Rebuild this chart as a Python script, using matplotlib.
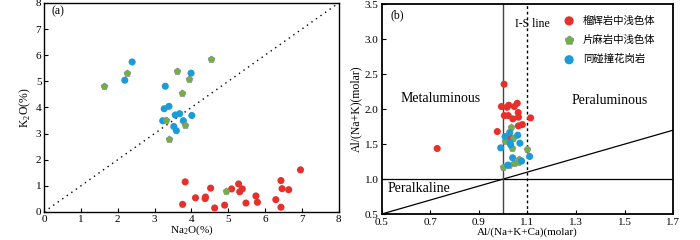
import matplotlib
matplotlib.use('Agg')
from matplotlib import pyplot as plt
import numpy as np

plt.rcParams['font.family'] = ['Liberation Serif', 'Noto Sans CJK SC', 'DejaVu Sans']
plt.rcParams['mathtext.fontset'] = 'custom'
plt.rcParams['mathtext.rm'] = 'Liberation Serif'

# panel (a): Na2O vs K2O
blueNa = [2.39, 2.19, 3.29, 3.99, 3.26, 3.39, 3.22, 3.56, 3.68, 4.01, 3.78, 3.52, 3.59]
blueK = [5.74, 5.04, 4.81, 5.31, 3.95, 4.04, 3.49, 3.71, 3.76, 3.69, 3.49, 3.27, 3.11]
greenNa = [1.63, 2.24, 3.61, 3.92, 3.75, 4.52, 3.32, 3.83, 3.38, 4.94]
greenK = [4.82, 5.33, 5.38, 5.09, 4.55, 5.87, 3.52, 3.34, 2.79, 0.79]
redNa = [3.83, 3.76, 4.11, 4.37, 4.38, 4.52, 4.63, 4.90, 5.09, 5.28, 5.31, 5.38,
         5.48, 5.75, 5.79, 6.29, 6.43, 6.46, 6.43, 6.64, 6.96]
redK = [1.15, 0.29, 0.54, 0.51, 0.57, 0.91, 0.15, 0.26, 0.88, 1.07, 0.77, 0.88,
        0.34, 0.61, 0.37, 0.47, 1.20, 0.89, 0.18, 0.85, 1.61]

# panel (b): A/CNK vs A/NK
redACNK = [1.004, 0.993, 1.016, 1.023, 1.046, 1.058, 1.062, 1.005, 1.021, 1.040,
           1.063, 1.063, 1.079, 1.113, 0.976, 0.729, 1.028]
redANK = [2.355, 2.036, 2.026, 2.055, 2.036, 2.083, 1.950, 1.907, 1.907, 1.860,
          1.884, 1.760, 1.779, 1.874, 1.679, 1.437, 1.598]
greenACNK = [1.034, 1.009, 1.040, 1.038, 1.098, 1.065, 1.046, 1.025, 0.998, 1.060]
greenANK = [1.751, 1.551, 1.584, 1.451, 1.427, 1.289, 1.223, 1.204, 1.175, 1.237]
blueACNK = [1.008, 1.027, 1.060, 0.990, 1.028, 1.031, 1.069, 1.039, 1.019, 1.076, 1.109]
blueANK = [1.608, 1.665, 1.627, 1.446, 1.522, 1.489, 1.513, 1.304, 1.199, 1.256, 1.323]

legendLabels = ['榴辉岩中浅色体', '片麻岩中浅色体', '同碰撞花岗岩']

red = '#e8302a'
green = '#6cb43f'
blue = '#1b9bd7'
ms = 26

fig = plt.figure(figsize=(7, 2.4), dpi=100)
ax1 = fig.add_axes([0.063, 0.117, 0.421, 0.871])
ax2 = fig.add_axes([0.545, 0.108, 0.417, 0.875])

# (a)
ax1.plot([0, 8], [0, 8], linestyle=(0, (1, 3)), color='black', lw=1.0)
ax1.scatter(redNa, redK, s=ms, c=red, edgecolors='none', zorder=3)
ax1.scatter(blueNa, blueK, s=ms, c=blue, edgecolors='none', zorder=3)
ax1.scatter(greenNa, greenK, s=ms, c=green, marker='p', edgecolors='#888888', linewidths=0.5, zorder=3)
ax1.set_xlim(0, 8)
ax1.set_ylim(0, 8)
ax1.set_xticks(range(9))
ax1.set_yticks(range(9))
ax1.set_xlabel('Na$_\\mathregular{2}$O(%)', fontsize=8, labelpad=0)
ax1.set_ylabel('K$_\\mathregular{2}$O(%)', fontsize=8.5, labelpad=2)
ax1.text(0.2, 7.55, '(a)', fontsize=8.5)

# (b)
ax2.plot([0.5, 1.7], [0.5, 1.7], color='black', lw=0.9)
ax2.axhline(1.0, color='black', lw=0.9)
ax2.axvline(1.0, color='#444444', lw=1.0)
ax2.axvline(1.1, color='black', lw=1.0, linestyle=(0, (2, 2)))
ax2.scatter(redACNK, redANK, s=ms, c=red, edgecolors='none', zorder=3, label=legendLabels[0])
ax2.scatter(greenACNK, greenANK, s=ms, c=green, marker='p', edgecolors='#888888', linewidths=0.5,
            zorder=3, label=legendLabels[1])
ax2.scatter(blueACNK, blueANK, s=ms, c=blue, edgecolors='none', zorder=3, label=legendLabels[2])
ax2.set_xlim(0.5, 1.7)
ax2.set_ylim(0.5, 3.5)
ax2.set_xticks([0.5, 0.7, 0.9, 1.1, 1.3, 1.5, 1.7])
ax2.set_yticks([0.5, 1.0, 1.5, 2.0, 2.5, 3.0, 3.5])
ax2.set_xlabel('Al/(Na+K+Ca)(molar)', fontsize=8, labelpad=0)
ax2.set_ylabel('Al/(Na+K)(molar)', fontsize=8.5, labelpad=2)
ax2.text(0.535, 3.3, '(b)', fontsize=8.5)
ax2.text(0.58, 2.1, 'Metaluminous', fontsize=10)
ax2.text(1.28, 2.07, 'Peraluminous', fontsize=10)
ax2.text(0.525, 0.82, 'Peralkaline', fontsize=10)
ax2.text(1.05, 3.17, 'I-S line', fontsize=8.5)
leg = ax2.legend(loc='upper right', bbox_to_anchor=(0.97, 0.99), frameon=False,
                 handletextpad=0.3, labelspacing=0.9, markerscale=1.3,
                 prop={'family': ['Noto Sans CJK SC', 'DejaVu Sans'], 'size': 7.5})

for ax in (ax1, ax2):
    ax.tick_params(direction='in', labelsize=8, length=3, width=0.8, pad=2)
ax2.tick_params(axis='x', pad=3)
for sp in ax1.spines.values():
    sp.set_linewidth(1.0)
for sp in ax2.spines.values():
    sp.set_linewidth(1.3)

fig.savefig('out.png', dpi=100)
